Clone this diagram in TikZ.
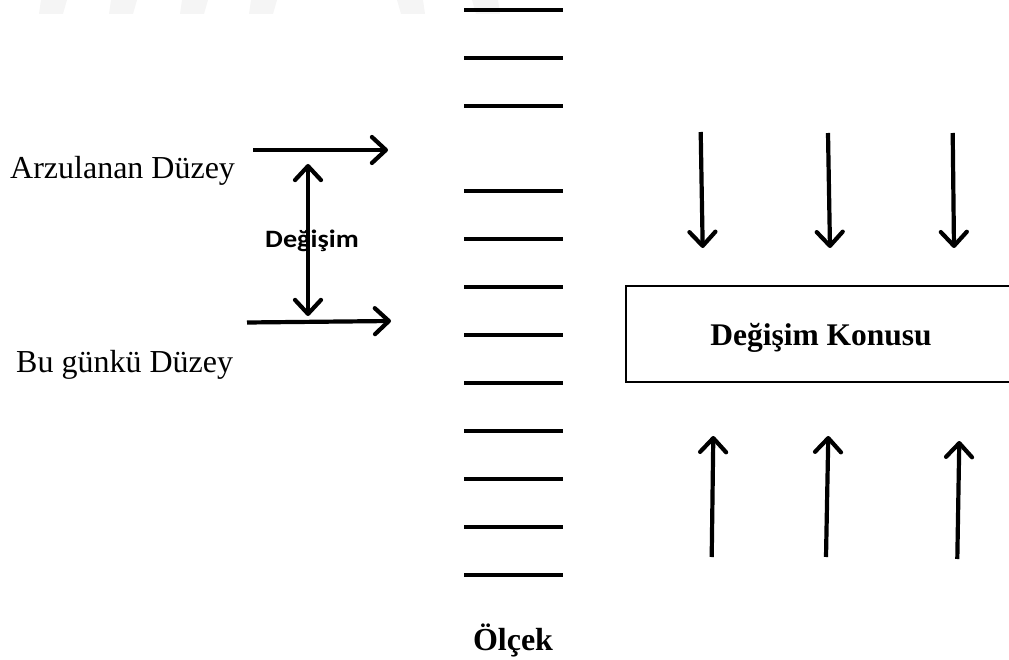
\documentclass[tikz,border=0pt]{standalone}
\usepackage{fontspec}
\setmainfont{Liberation Serif}
\newfontfamily\calib{Carlito}
\usetikzlibrary{arrows.meta}
\begin{document}
\begin{tikzpicture}[x=1pt,y=-1pt,
  tick/.style={line width=4pt},
  tipb/.tip={Straight Barb[length=14pt,width=26pt,line width=4.2pt,round]},
  arr/.style={line width=4.2pt,-tipb},
  darr/.style={line width=4.2pt,tipb-tipb},
  lbl/.style={inner sep=0pt,anchor=base west,font=\fontsize{32}{32}\selectfont},
  wm/.style={fill=black!4,draw=none}]
\useasboundingbox (0,0) rectangle (1009,660);
% faint watermark shapes
\foreach \x in {37,107,178,247}{\fill[wm] (\x+4,0) -- (\x+30,0) -- (\x+26,14) -- (\x+2,14) -- cycle;}
\foreach \x in {397,472}{\fill[wm] (\x,0) -- (\x+26,0) -- (\x+28,14) -- (\x+4,14) -- cycle;}
% scale ticks
\foreach \y in {10,58,106,191,239,287,335,383,431,479,527,575}{
  \draw[tick] (464,\y) -- (563,\y);}
\node[inner sep=0pt,anchor=base,font=\bfseries\fontsize{32}{32}\selectfont] (olcek) at (513,650) {Ölçek};
% left labels
\node[lbl] (arz) at (10,179) {Arzulanan Düzey};
\node[lbl] (bug) at (16,372) {Bu günkü Düzey};
\coordinate (a1s) at (253,150); \coordinate (a1e) at (388,150);
\coordinate (a2s) at (247,322.5); \coordinate (a2e) at (391,321);
\coordinate (vt) at (308,164); \coordinate (vb) at (308,316);
\draw[arr] (a1s) -- (a1e);
\draw[arr] (a2s) -- (a2e);
\draw[darr] (vb) -- (vt);
\node[inner sep=0pt,anchor=base,font=\calib\bfseries\fontsize{25}{25}\selectfont] (deg) at (312,248) {\scalebox{1.13}[1]{Değişim}};
% box
\draw[line width=1.6pt] (1015,286) -- (626,286) -- (626,382) -- (1015,382);
\node[inner sep=0pt,anchor=base,font=\bfseries\fontsize{31.5}{31.5}\selectfont] (konu) at (821,345) {Değişim Konusu};
% down arrows
\coordinate (d1s) at (700.7,132); \coordinate (d1e) at (702.7,248);
\coordinate (d2s) at (828,133); \coordinate (d2e) at (830,248);
\coordinate (d3s) at (952.7,133); \coordinate (d3e) at (954,248);
\foreach \i in {1,2,3}{\draw[arr] (d\i s) -- (d\i e);}
% up arrows
\coordinate (u1s) at (711.7,557); \coordinate (u1e) at (713.3,436);
\coordinate (u2s) at (826,557); \coordinate (u2e) at (828.3,436);
\coordinate (u3s) at (957.3,559); \coordinate (u3e) at (959.3,441);
\foreach \i in {1,2,3}{\draw[arr] (u\i s) -- (u\i e);}
\end{tikzpicture}
\end{document}
